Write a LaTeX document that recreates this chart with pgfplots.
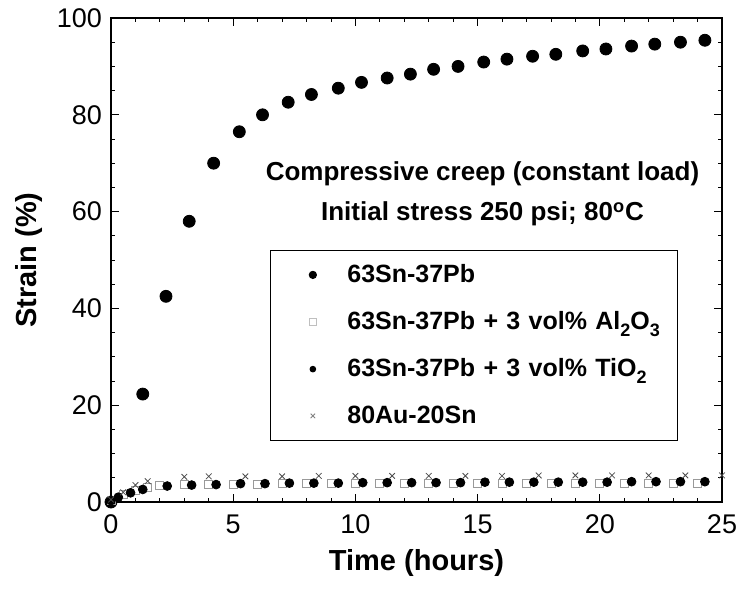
\documentclass[border=0pt]{standalone}
\usepackage{fontspec}
\setmainfont{Liberation Sans}
\usepackage{pgfplots}
\pgfplotsset{compat=1.18}
\newcommand\sub[1]{\raisebox{-0.5ex}{\fontsize{9}{10}\selectfont\bfseries #1}}
\pgfplotsset{myimg/.style={legend image code/.code={\path (0pt,0pt) (30pt,0pt); \draw[##1] plot coordinates {(15pt,0pt)};}}}
\begin{document}
\begin{tikzpicture}
\begin{axis}[
  scale only axis,
  width=305.5pt, height=242pt,
  xmin=0, xmax=25, ymin=0, ymax=100,
  xtick={0,5,...,25}, ytick={0,20,...,100},
  minor x tick num=4, minor y tick num=3,
  tick align=inside,
  major tick length=4pt, minor tick length=2pt,
  every tick/.style={black, line width=0.4pt},
  axis line style={line width=0.6pt},
  /pgf/number format/assume math mode=true,
  tick label style={font=\fontsize{13.5}{15}\selectfont},
  xticklabel style={yshift=-3pt},
  yticklabel style={xshift=-1pt},
  xlabel={\textbf{Time (hours)}},
  ylabel={\textbf{Strain (\%)}},
  label style={font=\fontsize{14.5}{16}\selectfont},
  xlabel style={yshift=-1pt},
  ylabel style={yshift=0.5pt},
  clip=false,
  legend cell align=left,
  legend style={at={(rel axis cs:0.26,0.521)}, anchor=north west,
    draw=black, line width=0.5pt, font=\fontsize{12.5}{15}\selectfont\bfseries,
    row sep=9pt, inner xsep=6pt, inner ysep=5pt, text width=157pt},
]
\coordinate (o) at (rel axis cs:0,0);
\addplot[only marks, mark=*, mark size=3pt, black, myimg, legend image post style={mark size=1.8pt}] coordinates {
(0,0)(1.3,22.3)(2.25,42.5)(3.2,58)(4.2,70)(5.25,76.5)(6.2,80)(7.25,82.6)(8.2,84.2)(9.3,85.5)(10.25,86.7)(11.3,87.6)(12.25,88.4)(13.2,89.4)(14.2,90)(15.25,90.9)(16.2,91.5)(17.25,92.1)(18.2,92.5)(19.3,93.2)(20.25,93.6)(21.3,94.2)(22.25,94.6)(23.3,95)(24.3,95.4)};
\addlegendentry{63Sn-37Pb}
\addplot[only marks, mark=square, mark size=2pt, draw=gray!80, line width=0.4pt, myimg, legend image post style={mark size=1.6pt, draw=gray!50}] coordinates {
(0,0.3)(0.5,1.5)(1.0,2.5)(1.5,3.0)(2.0,3.4)(3.0,3.7)(4.0,3.6)(5.0,3.7)(6.0,3.7)(7.0,3.8)(8.0,3.8)(9.0,3.8)(10.0,3.8)(11.0,3.8)(12.0,3.9)(13.0,3.9)(14.0,3.9)(15.0,3.9)(16.0,3.9)(17.0,3.9)(18.0,3.9)(19.0,3.9)(20.0,3.9)(21.0,3.9)(22.0,3.9)(23.0,3.9)(24.0,3.9)};
\addlegendentry{63Sn-37Pb + 3 vol\% Al\sub{2}O\sub{3}}
\addplot[only marks, mark=*, mark size=2.2pt, black, myimg, legend image post style={mark size=1.4pt}] coordinates {
(0,0.3)(0.3,1.0)(0.8,1.9)(1.3,2.6)(2.3,3.3)(3.3,3.5)(4.3,3.6)(5.3,3.8)(6.3,3.8)(7.3,3.9)(8.3,3.9)(9.3,3.9)(10.3,4.0)(11.3,4.0)(12.3,4.0)(13.3,4.0)(14.3,4.0)(15.3,4.1)(16.3,4.1)(17.3,4.1)(18.3,4.1)(19.3,4.1)(20.3,4.1)(21.3,4.2)(22.3,4.2)(23.3,4.2)(24.3,4.2)};
\addlegendentry{63Sn-37Pb + 3 vol\% TiO\sub{2}}
\addplot[only marks, mark=x, mark size=2pt, draw=black!70, line width=0.4pt, myimg, legend image post style={mark size=1.6pt, draw=gray}] coordinates {
(0,0.5)(0.5,2.0)(1.0,3.5)(1.5,4.3)(3.0,5.2)(4.0,5.3)(5.5,5.3)(7.0,5.3)(8.5,5.4)(10.0,5.4)(11.5,5.4)(13.0,5.4)(14.5,5.4)(16.0,5.4)(17.5,5.5)(19.0,5.5)(20.5,5.5)(22.0,5.5)(23.5,5.5)(25.0,5.5)};
\addlegendentry{80Au-20Sn}
\node[font=\fontsize{13}{15}\selectfont\bfseries] at (axis cs:15.2,67.8) {Compressive creep (constant load)};
\node[font=\fontsize{13}{15}\selectfont\bfseries] at (axis cs:15.2,59.5) {Initial stress 250 psi; 80\textsuperscript{o}C};
\end{axis}
\pgfresetboundingbox
\path ([shift={(-55.5pt,-44.5pt)}]o) rectangle ++(369pt,295.5pt);
\end{tikzpicture}
\end{document}
